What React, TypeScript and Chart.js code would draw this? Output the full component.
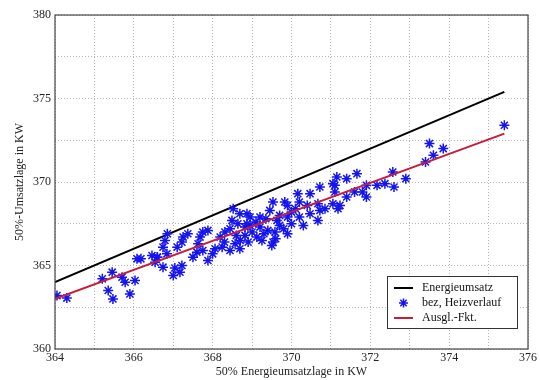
import React, { useEffect, useRef } from "react";
import { Chart, registerables } from "chart.js";

Chart.register(...registerables);

// Measured heat-release positions (x: 50% energy turnover position, y: 50% turnover position)
const measX = [
  364.05, 364.3, 365.2, 365.45, 365.35, 365.47, 365.7, 365.78, 366.03, 365.9,
  366.08, 366.18, 366.46, 366.54, 366.6, 366.74, 366.84, 366.79, 366.85, 367.22,
  367.25, 367.37, 367.1, 367.68, 367.63, 367.75, 367.88, 367.6, 367.75, 368.06,
  368.24, 368.19, 368.31, 368.44, 368.49, 368.52, 368.69, 368.87, 368.64, 368.82,
  368.95, 368.57, 368.69, 368.44, 368.0, 367.88, 367.5, 367.22, 367.04, 366.74,
  367.0, 367.17, 366.59, 368.95, 369.2, 369.45, 369.63, 368.87, 369.2, 369.4,
  369.58, 369.7, 368.82, 369.12, 369.53, 369.5, 368.7, 369.53, 369.83, 369.9,
  370.1, 370.4, 370.67, 370.85, 371.05, 371.23, 371.4, 370.67, 370.47, 370.2,
  369.9, 370.16, 370.47, 370.72, 371.1, 371.15, 371.05, 371.1, 371.4, 371.66,
  371.6, 371.9, 371.9, 372.17, 372.37, 372.57, 372.6, 372.9, 373.4, 373.5,
  373.6, 373.85, 375.4, 371.18, 370.2, 370.72, 371.8, 369.0, 369.3, 369.1,
  368.6, 369.8, 369.9, 370.0, 368.9, 369.35, 369.7, 370.3, 370.0, 369.25,
  368.3, 369.6,
];
const measY = [
  363.2, 363.05, 364.2, 364.6, 363.5, 363.0, 364.3, 364.0, 364.1, 363.3,
  365.4, 365.4, 365.6, 365.2, 365.5, 366.1, 365.7, 366.5, 366.9, 366.4,
  366.7, 366.9, 366.1, 366.7, 366.3, 367.0, 367.1, 365.8, 365.9, 366.0,
  366.1, 366.7, 367.0, 367.2, 367.7, 368.4, 368.1, 368.1, 367.5, 367.3,
  367.4, 366.3, 366.0, 365.9, 365.7, 365.3, 365.5, 365.0, 364.85, 364.9,
  364.4, 364.6, 365.5, 367.9, 367.9, 368.3, 367.7, 367.5, 367.3, 367.1,
  367.0, 367.4, 366.8, 366.7, 366.4, 366.2, 366.5, 368.8, 368.8, 368.6,
  368.4, 368.6, 368.7, 368.4, 368.7, 368.6, 369.1, 367.7, 368.1, 367.9,
  367.9, 369.3, 369.3, 369.7, 369.8, 370.3, 369.9, 369.4, 370.2, 370.5,
  369.4, 369.1, 369.8, 369.8, 369.9, 370.6, 369.7, 370.2, 371.2, 372.3,
  371.6, 372.0, 373.4, 368.4, 368.8, 368.3, 369.4, 367.0, 366.9, 367.6,
  366.8, 367.2, 366.9, 367.5, 366.4, 367.8, 368.0, 367.4, 368.2, 366.5,
  366.4, 366.6,
];

// Reference line (y = x) and fitted regression line endpoints
const identityX = [364, 375.4];
const identityY = [364, 375.4];
const fitX = [364, 375.4];
const fitY = [363.0, 372.9];

const xTickLabels = [364, 366, 368, 370, 372, 374, 376];
const yTickLabels = [360, 365, 370, 375, 380];

const labelEnergie = "Energieumsatz";
const labelHeiz = "bez, Heizverlauf";
const labelFit = "Ausgl.-Fkt.";

const FONT = "'Liberation Serif', 'DejaVu Serif', serif";
const BLUE = "#1414f0";
const RED = "#c41e3a";

const toPoints = (xs: number[], ys: number[]) => xs.map((x, i) => ({ x, y: ys[i] }));

// Frame around the plot area plus a boxed legend in the lower right corner
const framePlugin = {
  id: "frameAndLegend",
  afterDatasetsDraw(chart: any) {
    const { ctx, chartArea } = chart;
    const { left, top, right, bottom } = chartArea;
    ctx.save();
    ctx.strokeStyle = "#444";
    ctx.lineWidth = 1.2;
    ctx.setLineDash([]);
    ctx.strokeRect(left, top, right - left, bottom - top);

    // legend box
    const bw = 130;
    const bh = 52;
    const bx = right - 11 - bw;
    const by = bottom - 21 - bh;
    ctx.fillStyle = "#fff";
    ctx.fillRect(bx, by, bw, bh);
    ctx.strokeStyle = "#333";
    ctx.lineWidth = 1;
    ctx.strokeRect(bx + 0.5, by + 0.5, bw, bh);

    const rows = [
      { label: labelEnergie, kind: "line", color: "#000" },
      { label: labelHeiz, kind: "star", color: BLUE },
      { label: labelFit, kind: "line", color: RED },
    ];
    ctx.font = `12px ${FONT}`;
    ctx.textBaseline = "middle";
    rows.forEach((r, i) => {
      const cy = by + 12 + i * 15;
      const sx = bx + 7;
      const ex = bx + 26;
      if (r.kind === "line") {
        ctx.strokeStyle = r.color;
        ctx.lineWidth = 2;
        ctx.beginPath();
        ctx.moveTo(sx, cy);
        ctx.lineTo(ex, cy);
        ctx.stroke();
      } else {
        const cx = (sx + ex) / 2;
        const rr = 4.5;
        ctx.strokeStyle = r.color;
        ctx.lineWidth = 1.5;
        ctx.beginPath();
        ctx.moveTo(cx - rr, cy);
        ctx.lineTo(cx + rr, cy);
        ctx.moveTo(cx, cy - rr);
        ctx.lineTo(cx, cy + rr);
        const d = rr * 0.707;
        ctx.moveTo(cx - d, cy - d);
        ctx.lineTo(cx + d, cy + d);
        ctx.moveTo(cx - d, cy + d);
        ctx.lineTo(cx + d, cy - d);
        ctx.stroke();
      }
      ctx.fillStyle = "#111";
      ctx.fillText(r.label, bx + 35, cy);
    });
    ctx.restore();
  },
};

export default function App() {
  const canvasRef = useRef<HTMLCanvasElement | null>(null);

  useEffect(() => {
    if (!canvasRef.current) return;
    const chart = new Chart(canvasRef.current, {
      type: "scatter",
      data: {
        datasets: [
          {
            label: labelFit,
            data: toPoints(fitX, fitY),
            showLine: true,
            borderColor: RED,
            borderWidth: 2,
            pointRadius: 0,
            order: 0,
          },
          {
            label: labelHeiz,
            data: toPoints(measX, measY),
            showLine: false,
            pointStyle: "star",
            pointRadius: 5,
            borderColor: BLUE,
            backgroundColor: BLUE,
            pointBorderWidth: 1.5,
            order: 1,
          },
          {
            label: labelEnergie,
            data: toPoints(identityX, identityY),
            showLine: true,
            borderColor: "#000",
            borderWidth: 2,
            pointRadius: 0,
            order: 2,
          },
        ],
      },
      options: {
        responsive: false,
        animation: false,
        layout: { padding: { top: 15, right: 12, left: 0, bottom: 0 } },
        plugins: {
          legend: { display: false },
          tooltip: { enabled: false },
        },
        scales: {
          x: {
            type: "linear",
            min: 364,
            max: 376,
            afterFit: (s: any) => {
              s.height = 31;
            },
            ticks: {
              stepSize: 1,
              autoSkip: false,
              maxRotation: 0,
              padding: 2,
              color: "#222",
              font: { family: FONT, size: 12 },
              callback: (v: any) => (xTickLabels.includes(Number(v)) ? String(v) : ""),
            },
            grid: { color: "#b4b4b4", lineWidth: 1, drawTicks: false },
            border: { display: false, dash: [1, 2] },
            title: {
              display: true,
              text: "50% Energieumsatzlage in KW",
              color: "#222",
              font: { family: FONT, size: 12 },
              padding: { top: 0, bottom: 1 },
            },
          },
          y: {
            type: "linear",
            min: 360,
            max: 380,
            afterFit: (s: any) => {
              s.width = 55;
            },
            ticks: {
              stepSize: 2.5,
              autoSkip: false,
              padding: 4,
              color: "#222",
              font: { family: FONT, size: 12 },
              callback: (v: any) => (yTickLabels.includes(Number(v)) ? String(v) : ""),
            },
            grid: { color: "#b4b4b4", lineWidth: 1, drawTicks: false },
            border: { display: false, dash: [1, 2] },
            title: {
              display: true,
              text: "50%-Umsatzlage in KW",
              color: "#222",
              font: { family: FONT, size: 12 },
              padding: { top: 13, bottom: 0 },
            },
          },
        },
      },
      plugins: [framePlugin],
    });
    return () => chart.destroy();
  }, []);

  return (
    <div style={{ position: "absolute", left: 0, top: 0, width: 540, height: 380, background: "#fff" }}>
      <canvas ref={canvasRef} width={540} height={380} />
    </div>
  );
}
